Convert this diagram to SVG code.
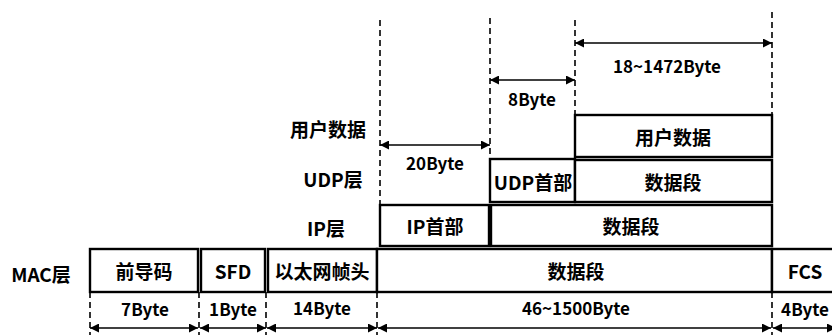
<svg xmlns="http://www.w3.org/2000/svg" width="832" height="335" viewBox="0 0 832 335">
<style>
.box{fill:#fff;stroke:#000;stroke-width:2.4}
.dash{stroke:#000;stroke-width:1.6;stroke-dasharray:6,4;fill:none}
.arr{stroke:#000;stroke-width:1.6;fill:none;marker-start:url(#ah);marker-end:url(#ah)}
text{font-family:"Noto Sans CJK SC","Noto Sans",sans-serif;font-size:19px;font-weight:bold;fill:#000;text-anchor:middle;dominant-baseline:central}
.lat{font-size:17px}
</style>
<defs>
<marker id="ah" viewBox="0 0 10 10" refX="10" refY="5" markerWidth="9" markerHeight="9" markerUnits="userSpaceOnUse" orient="auto-start-reverse">
<path d="M0,0 L10,5 L0,10 Z" fill="#000"/>
</marker>
</defs>
<g id="connectors">
<line class="dash" x1="380" y1="20" x2="380" y2="205"/>
<line class="dash" x1="490" y1="18" x2="490" y2="159"/>
<line class="dash" x1="575" y1="20" x2="575" y2="115"/>
<line class="dash" x1="772" y1="12" x2="772" y2="115"/>
<line class="dash" x1="90" y1="292" x2="90" y2="335"/>
<line class="dash" x1="199" y1="292" x2="199" y2="335"/>
<line class="dash" x1="266" y1="292" x2="266" y2="335"/>
<line class="dash" x1="377" y1="292" x2="377" y2="335"/>
<line class="dash" x1="772" y1="292" x2="772" y2="335"/>
<line class="arr" x1="575" y1="43" x2="772" y2="43"/>
<line class="arr" x1="490" y1="80" x2="575" y2="80"/>
<line class="arr" x1="380" y1="145" x2="490" y2="145"/>
<line class="arr" x1="90" y1="328" x2="198" y2="328"/>
<line class="arr" x1="200" y1="328" x2="266" y2="328"/>
<line class="arr" x1="267" y1="328" x2="377" y2="328"/>
<line class="arr" x1="378" y1="328" x2="771" y2="328"/>
<line class="arr" x1="773" y1="328" x2="836" y2="328"/>
</g>
<g id="labels">
<text class="lat" x="667" y="65">18~1472Byte</text>
<text class="lat" x="532" y="98">8Byte</text>
<text class="lat" x="435" y="162">20Byte</text>
<text class="lat" x="145" y="308">7Byte</text>
<text class="lat" x="233" y="308">1Byte</text>
<text class="lat" x="322" y="307">14Byte</text>
<text class="lat" x="576" y="307">46~1500Byte</text>
<text class="lat" x="805" y="308">4Byte</text>
<text x="328" y="128">用户数据</text>
<text x="333" y="178">UDP层</text>
<text x="326" y="227">IP层</text>
<text x="41" y="273">MAC层</text>
</g>
<g id="user-data"><rect class="box" x="575" y="115" width="197" height="42"/><text x="673" y="136">用户数据</text></g>
<g id="udp-header"><rect class="box" x="490" y="159" width="85" height="43"/><text x="533" y="181">UDP首部</text></g>
<g id="udp-data"><rect class="box" x="575" y="160" width="197" height="42"/><text x="673" y="181">数据段</text></g>
<g id="ip-header"><rect class="box" x="380" y="205" width="109" height="41"/><text x="435" y="225">IP首部</text></g>
<g id="ip-data"><rect class="box" x="491" y="205" width="281" height="41"/><text x="631" y="225">数据段</text></g>
<g id="preamble"><rect class="box" x="90" y="249" width="108" height="43"/><text x="144" y="270">前导码</text></g>
<g id="sfd"><rect class="box" x="201" y="249" width="64" height="43"/><text x="233" y="270">SFD</text></g>
<g id="eth-header"><rect class="box" x="268" y="249" width="109" height="43"/><text x="322" y="270">以太网帧头</text></g>
<g id="mac-data"><rect class="box" x="377" y="249" width="395" height="43"/><text x="576" y="270">数据段</text></g>
<g id="fcs"><rect class="box" x="772" y="249" width="70" height="43"/><text x="805" y="270">FCS</text></g>
</svg>
